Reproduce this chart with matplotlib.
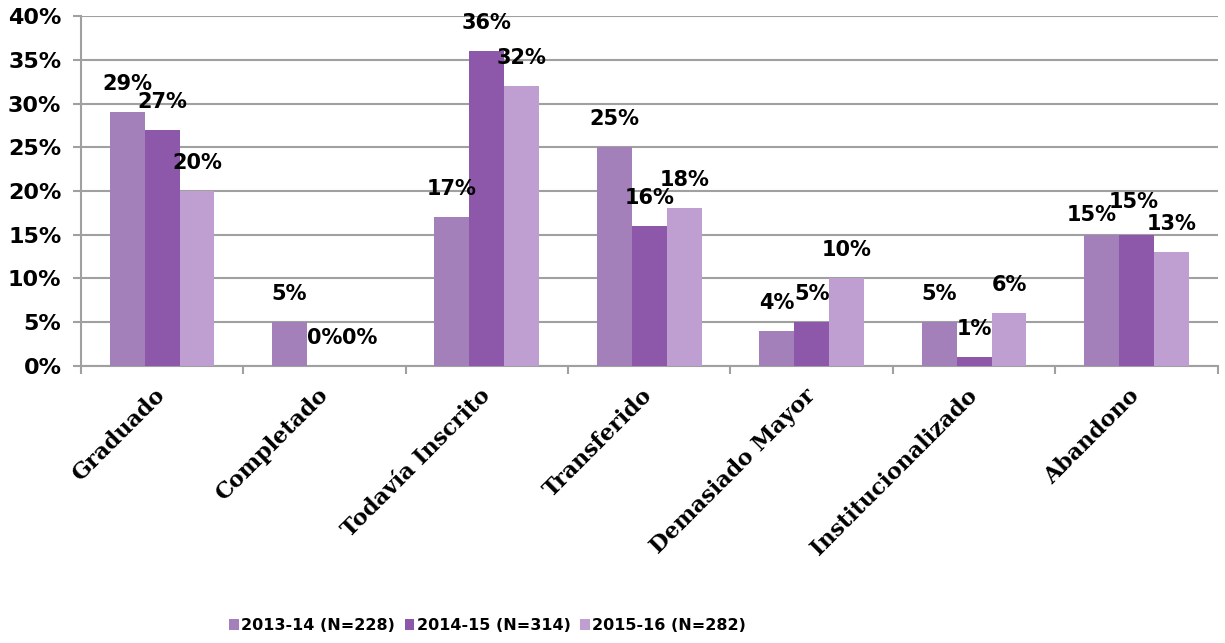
import numpy as np
import matplotlib.pyplot as plt
from matplotlib.ticker import FixedLocator, PercentFormatter

categories = ["Graduado", "Completado", "Todavía Inscrito", "Transferido",
              "Demasiado Mayor", "Institucionalizado", "Abandono"]
series_names = ["2013-14 (N=228)", "2014-15 (N=314)", "2015-16 (N=282)"]
vals_2013 = [29, 5, 17, 25, 4, 5, 15]
vals_2014 = [27, 0, 36, 16, 5, 1, 15]
vals_2015 = [20, 0, 32, 18, 10, 6, 13]
colors = ["#a480ba", "#8e58aa", "#bf9fd1"]

# small nudges (points) for the labels that crowd each other, like the original
nudge = {(0, 6): (-7, -6), (1, 6): (-2, 3)}

fig = plt.figure(figsize=(12.25, 6.43), dpi=100)
ax = fig.add_axes([0.066, 0.431, 0.928, 0.544])

x = np.arange(len(categories))
w = 0.215
for i, (vals, name) in enumerate(zip([vals_2013, vals_2014, vals_2015], series_names)):
    pos = x + (i - 1) * w
    ax.bar(pos, vals, width=w, color=colors[i], label=name, zorder=3)
    for j, (p, v) in enumerate(zip(pos, vals)):
        dx, dy = nudge.get((i, j), (0, 0))
        ax.annotate(f"{v}%", (p, v), xytext=(dx, 13 + dy), textcoords="offset points",
                    ha="center", va="bottom", fontsize=15, fontweight="bold",
                    zorder=4)

ax.set_xlim(-0.5, len(categories) - 0.5)
ax.set_ylim(0, 40)
ax.set_yticks(np.arange(0, 41, 5))
ax.yaxis.set_major_formatter(PercentFormatter(decimals=0))
ax.grid(axis="y", color="#a0a0a0", linewidth=1.5, zorder=0)

ax.set_xticks(x)
ax.set_xticklabels(categories, rotation=45, ha="right", va="center",
                   rotation_mode="anchor", family="DejaVu Serif",
                   fontweight="bold", fontsize=16)
ax.tick_params(axis="x", which="major", length=0, pad=19)
ax.xaxis.set_minor_locator(FixedLocator(np.arange(-0.5, len(categories), 1)))
ax.tick_params(axis="x", which="minor", length=6, color="#a0a0a0", width=1.5)
ax.tick_params(axis="y", length=6, color="#a0a0a0", width=1.5, pad=8)
for lab in ax.get_yticklabels():
    lab.set_fontweight("bold")
    lab.set_fontsize(16)

for s in ["top", "right"]:
    ax.spines[s].set_visible(False)
for s in ["left", "bottom"]:
    ax.spines[s].set_color("#a0a0a0")
    ax.spines[s].set_linewidth(1.5)

fig.legend(loc="center", bbox_to_anchor=(0.398, 0.027), ncol=3, frameon=False,
           handlelength=0.6, handleheight=0.6, handletextpad=0.15, columnspacing=0.6,
           prop={"family": "DejaVu Sans", "weight": "bold", "size": 11.5})

fig.savefig("out.png", dpi=100)
